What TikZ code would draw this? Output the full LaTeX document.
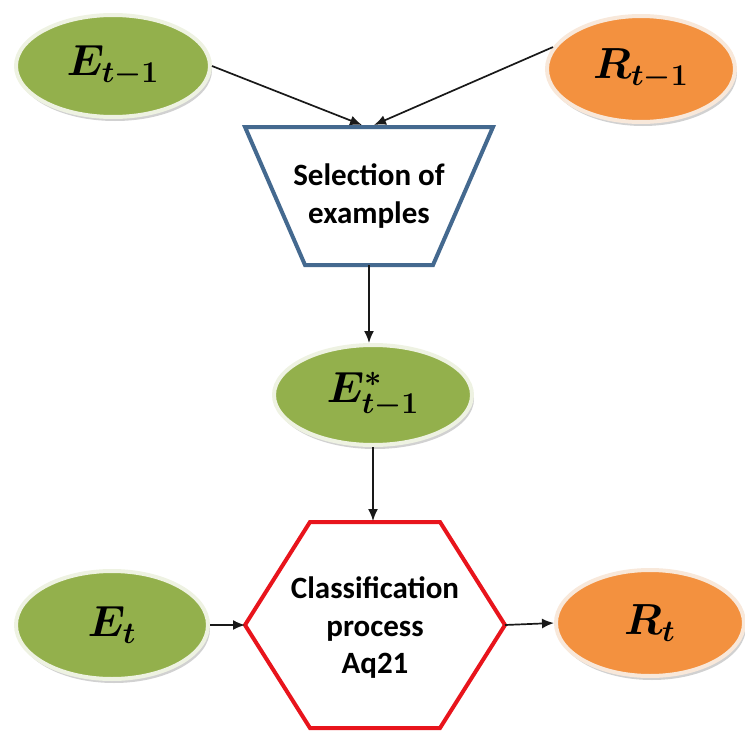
\documentclass[tikz,border=0pt]{standalone}
\usepackage{graphicx}
\usepackage{bm}
\usepackage{fontspec}
\newfontfamily\carlitofont{Carlito}
\usetikzlibrary{shadows,arrows.meta,shapes.geometric}
\definecolor{egreen}{HTML}{93B04C}
\definecolor{rorange}{HTML}{F3913F}
\definecolor{haloG}{HTML}{EEF2E2}
\definecolor{haloO}{HTML}{F8E8DA}
\definecolor{tblue}{HTML}{44698F}
\definecolor{hred}{HTML}{E8141C}
\newcommand{\mylab}[1]{\scalebox{2.1}{$\bm{#1}$}}
\tikzset{
  ell/.style={ellipse, inner sep=0pt, line width=4pt,
    drop shadow={shadow xshift=2pt, shadow yshift=-4pt, opacity=0.3, fill=black!60},
    font=\fontsize{20.74}{25}\selectfont},
  gell/.style={ell, fill=egreen, draw=haloG},
  oell/.style={ell, fill=rorange, draw=haloO},
  boxtext/.style={inner sep=0pt, align=center, font=\carlitofont\bfseries\fontsize{31}{37.5}\selectfont},
  arr/.style={line width=1.7pt, draw=black!90, -{Latex[length=12pt,width=10pt]}}
}
\begin{document}
\begin{tikzpicture}[x=1pt,y=-1pt]
\useasboundingbox (0,0) rectangle (745,731);
% ellipses
\node[gell, minimum width=194pt, minimum height=102pt] (e1) at (113,66) {\mylab{E_{t-1}}};
\node[oell, minimum width=188pt, minimum height=106pt] (r1) at (641,69) {\mylab{R_{t-1}}};
\node[gell, minimum width=198pt, minimum height=100pt] (es) at (373,395) {\mylab{E^{*}_{t-1}}};
\node[gell, minimum width=192pt, minimum height=108pt] (et) at (112,625) {\mylab{E_{t}}};
\node[oell, minimum width=188pt, minimum height=106pt] (rt) at (650,623) {\mylab{R_{t}}};
% trapezoid
\draw[tblue, line width=4pt, line join=miter, fill=white] (245,127) -- (493,127) -- (433,265) -- (305,265) -- cycle;
\node[boxtext, minimum width=248pt, minimum height=138pt] (sel) at (369,196) {Selection of\\examples};
% hexagon
\draw[hred, line width=4pt, line join=miter, fill=white] (310,522) -- (440,522) -- (505,625) -- (440,728) -- (310,728) -- (245,625) -- cycle;
\node[boxtext, minimum width=260pt, minimum height=206pt] (cls) at (375,628) {Classification\\process\\Aq21};
% connectors
\coordinate (t1) at (362,125);
\coordinate (t2) at (374,125);
\draw[arr] (e1.east) -- (t1);
\draw[arr] (r1.166) -- (t2);
\draw[arr] (sel.south) -- (sel.south |- es.north);
\draw[arr] (es.south) -- (es.south |- 0,521);
\draw[arr] (et.east) -- (245,625);
\draw[arr] (505,625) -- (rt.west);
\end{tikzpicture}
\end{document}
